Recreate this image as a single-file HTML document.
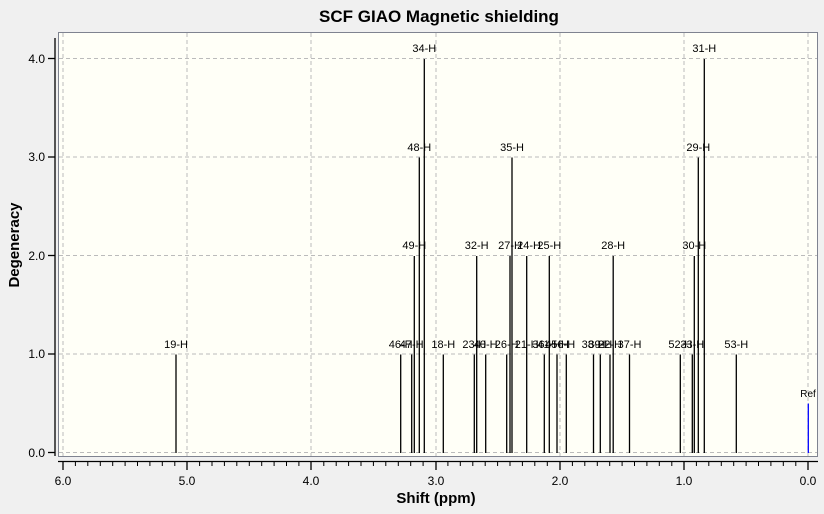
<!DOCTYPE html>
<html><head><meta charset="utf-8"><style>
html,body{margin:0;padding:0;background:#f0f0f0;}
svg{display:block;font-family:"Liberation Sans",sans-serif;}
.l{stroke:#000;stroke-width:1.3;}
.t{font-size:11px;text-anchor:middle;fill:#000;}
</style></head><body>
<svg width="824" height="514" viewBox="0 0 824 514">
<rect x="0" y="0" width="824" height="514" fill="#f0f0f0"/>
<text x="439" y="22" font-size="17" font-weight="bold" text-anchor="middle">SCF GIAO Magnetic shielding</text>
<rect x="58.5" y="32.5" width="759" height="424" fill="#fffff7" stroke="#7f8390" stroke-width="1"/>
<g stroke="#bbb" stroke-dasharray="4,3" stroke-width="1">
<line x1="63" y1="33" x2="63" y2="456"/><line x1="187" y1="33" x2="187" y2="456"/><line x1="311" y1="33" x2="311" y2="456"/><line x1="436" y1="33" x2="436" y2="456"/><line x1="560" y1="33" x2="560" y2="456"/><line x1="684" y1="33" x2="684" y2="456"/><line x1="808" y1="33" x2="808" y2="456"/>
<line x1="59" y1="58.5" x2="817" y2="58.5"/><line x1="59" y1="157" x2="817" y2="157"/><line x1="59" y1="255.5" x2="817" y2="255.5"/><line x1="59" y1="354" x2="817" y2="354"/><line x1="59" y1="452.5" x2="817" y2="452.5"/>
</g>
<!-- y axis -->
<g stroke="#000" stroke-width="1.3">
<line x1="55" y1="38" x2="55" y2="456"/>
<line x1="48" y1="58.5" x2="55" y2="58.5"/><line x1="48" y1="157" x2="55" y2="157"/><line x1="48" y1="255.5" x2="55" y2="255.5"/><line x1="48" y1="354" x2="55" y2="354"/><line x1="48" y1="452.5" x2="55" y2="452.5"/>
</g>
<g font-size="12" text-anchor="end">
<text x="45" y="63">4.0</text><text x="45" y="161">3.0</text><text x="45" y="260">2.0</text><text x="45" y="358">1.0</text><text x="45" y="457">0.0</text>
</g>
<text transform="translate(19,245) rotate(-90)" font-size="15" font-weight="bold" text-anchor="middle">Degeneracy</text>
<!-- x axis -->
<g stroke="#000" stroke-width="1.3">
<line x1="58" y1="461.5" x2="818" y2="461.5"/>
<line x1="63" y1="461" x2="63" y2="470"/><line x1="187" y1="461" x2="187" y2="470"/><line x1="311" y1="461" x2="311" y2="470"/><line x1="436" y1="461" x2="436" y2="470"/><line x1="560" y1="461" x2="560" y2="470"/><line x1="684" y1="461" x2="684" y2="470"/><line x1="808" y1="461" x2="808" y2="470"/>
</g>
<g stroke="#000" stroke-width="1">
<path d="M75.4 461v5M87.8 461v5M100.3 461v5M112.7 461v5M125.1 461v5M137.5 461v5M149.9 461v5M162.3 461v5M174.8 461v5
M199.6 461v5M212 461v5M224.4 461v5M236.8 461v5M249.3 461v5M261.7 461v5M274.1 461v5M286.5 461v5M298.9 461v5
M323.8 461v5M336.2 461v5M348.6 461v5M361 461v5M373.4 461v5M385.8 461v5M398.3 461v5M410.7 461v5M423.1 461v5
M447.9 461v5M460.3 461v5M472.8 461v5M485.2 461v5M497.6 461v5M510 461v5M522.4 461v5M534.8 461v5M547.3 461v5
M572.4 461v5M584.8 461v5M597.3 461v5M609.7 461v5M622.1 461v5M634.5 461v5M646.9 461v5M659.3 461v5M671.8 461v5
M696.4 461v5M708.8 461v5M721.3 461v5M733.7 461v5M746.1 461v5M758.5 461v5M770.9 461v5M783.3 461v5M795.8 461v5"/>
</g>
<g font-size="12" text-anchor="middle">
<text x="63" y="485">6.0</text><text x="187" y="485">5.0</text><text x="311" y="485">4.0</text><text x="436" y="485">3.0</text><text x="560" y="485">2.0</text><text x="684" y="485">1.0</text><text x="808" y="485">0.0</text>
</g>
<text x="436" y="503" font-size="15" font-weight="bold" text-anchor="middle">Shift (ppm)</text>
<!-- sticks -->
<g class="l">
<line x1="176" y1="354.5" x2="176" y2="453"/>
<line x1="400.7" y1="354.5" x2="400.7" y2="453"/>
<line x1="411.7" y1="354.5" x2="411.7" y2="453"/>
<line x1="414.3" y1="256" x2="414.3" y2="453"/>
<line x1="419.3" y1="157.5" x2="419.3" y2="453"/>
<line x1="424.3" y1="59" x2="424.3" y2="453"/>
<line x1="443.3" y1="354.5" x2="443.3" y2="453"/>
<line x1="474.3" y1="354.5" x2="474.3" y2="453"/>
<line x1="476.7" y1="256" x2="476.7" y2="453"/>
<line x1="485.7" y1="354.5" x2="485.7" y2="453"/>
<line x1="506.7" y1="354.5" x2="506.7" y2="453"/>
<line x1="510" y1="256" x2="510" y2="453"/>
<line x1="512" y1="157.5" x2="512" y2="453"/>
<line x1="526.7" y1="256" x2="526.7" y2="453"/>
<line x1="544.3" y1="354.5" x2="544.3" y2="453"/>
<line x1="549.3" y1="256" x2="549.3" y2="453"/>
<line x1="557" y1="354.5" x2="557" y2="453"/>
<line x1="566.3" y1="354.5" x2="566.3" y2="453"/>
<line x1="593.5" y1="354.5" x2="593.5" y2="453"/>
<line x1="600.3" y1="354.5" x2="600.3" y2="453"/>
<line x1="610" y1="354.5" x2="610" y2="453"/>
<line x1="613.2" y1="256" x2="613.2" y2="453"/>
<line x1="629.5" y1="354.5" x2="629.5" y2="453"/>
<line x1="680.3" y1="354.5" x2="680.3" y2="453"/>
<line x1="692.3" y1="354.5" x2="692.3" y2="453"/>
<line x1="694.3" y1="256" x2="694.3" y2="453"/>
<line x1="698.3" y1="157.5" x2="698.3" y2="453"/>
<line x1="704.3" y1="59" x2="704.3" y2="453"/>
<line x1="736.3" y1="354.5" x2="736.3" y2="453"/>
</g>
<line x1="808.3" y1="403.5" x2="808.3" y2="453" stroke="#0000ff" stroke-width="1.3"/>
<g class="t">
<text x="176" y="348">19-H</text>
<text x="400.7" y="348">46-H</text><text x="411.7" y="348">47-H</text>
<text x="414.3" y="249">49-H</text><text x="419.3" y="151">48-H</text><text x="424.3" y="52">34-H</text>
<text x="443.3" y="348">18-H</text>
<text x="474.3" y="348">23-H</text><text x="476.7" y="249">32-H</text><text x="485.7" y="348">40-H</text>
<text x="506.7" y="348">26-H</text><text x="510" y="249">27-H</text><text x="512" y="151">35-H</text>
<text x="526.7" y="348">21-H</text><text x="529" y="249">24-H</text>
<text x="544.3" y="348">36-H</text><text x="549.3" y="348">41-H</text><text x="549.3" y="249">25-H</text>
<text x="557" y="348">45-H</text><text x="566.3" y="348">6-H</text>
<text x="593.5" y="348">38-H</text><text x="600.3" y="348">39-H</text><text x="610" y="348">22-H</text><text x="613.2" y="249">28-H</text>
<text x="629.5" y="348">37-H</text>
<text x="680.3" y="348">52-H</text><text x="692.3" y="348">33-H</text>
<text x="694.3" y="249">30-H</text><text x="698.3" y="151">29-H</text><text x="704.3" y="52">31-H</text>
<text x="736.3" y="348">53-H</text>
<text x="808" y="397" font-size="10">Ref</text>
</g>
</svg>
</body></html>
